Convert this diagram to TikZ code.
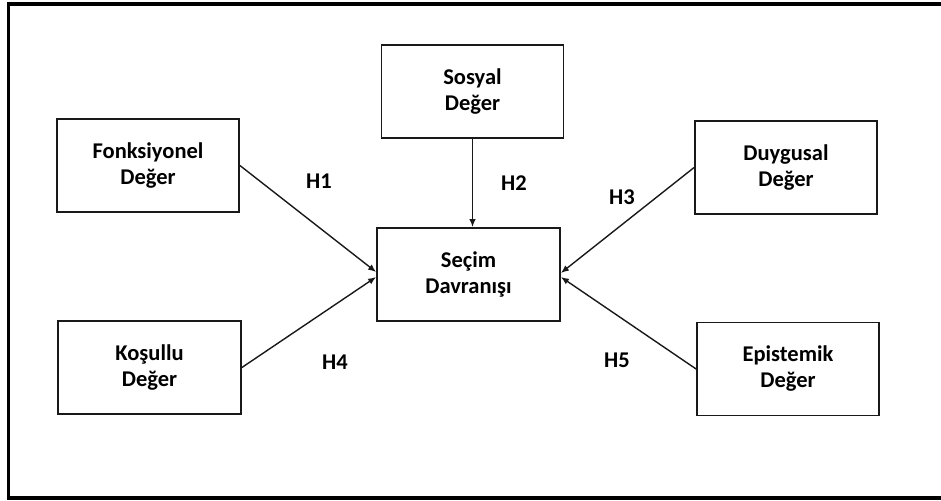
\documentclass[tikz,border=0pt]{standalone}
\usepackage{fontspec}
\setmainfont{Carlito}
\usetikzlibrary{arrows.meta}
\tikzset{
  valbox/.style={draw=black!90, line width=1.8pt, minimum width=182pt, minimum height=93pt, inner sep=0pt, align=center, font=\bfseries\fontsize{22.5}{26}\selectfont},
  hlabel/.style={font=\bfseries\fontsize{22.5}{26}\selectfont, inner sep=0pt},
  link/.style={draw=black!90, line width=1.4pt, -{Latex[length=8pt,width=6.5pt]}}
}
\begin{document}
\begin{tikzpicture}[x=1pt,y=-1pt]
\useasboundingbox (0,0) rectangle (941,500);
\draw[line width=3.5pt, black] (8.7,3.8) rectangle (960,497.8);
\node[valbox] (fonk) at (148,165.5) {Fonksiyonel\\Değer};
\node[valbox] (sosyal) at (472.5,91.5) {Sosyal\\Değer};
\node[valbox, minimum width=183pt] (secim) at (468.5,274.5) {Seçim\\Davranışı};
\node[valbox] (duygu) at (786,167.5) {Duygusal\\Değer};
\node[valbox, minimum width=183pt] (kosul) at (149.5,367.5) {Koşullu\\Değer};
\node[valbox] (epis) at (788,369) {Epistemik\\Değer};
\draw[link] (fonk.east) -- ([yshift=2.5pt]secim.west);
\draw[link] (kosul.east) -- ([yshift=-2.5pt]secim.west);
\draw[link] (sosyal.south) -- (sosyal.south |- secim.north);
\draw[link] (duygu.west) -- ([yshift=1.5pt]secim.east);
\draw[link] (epis.west) -- ([yshift=-2.5pt]secim.east);
\node[hlabel] (h1) at (319,181) {H1};
\node[hlabel] (h2) at (514,183) {H2};
\node[hlabel] (h3) at (622,197) {H3};
\node[hlabel] (h4) at (335,362) {H4};
\node[hlabel] (h5) at (617,360) {H5};
\end{tikzpicture}
\end{document}
